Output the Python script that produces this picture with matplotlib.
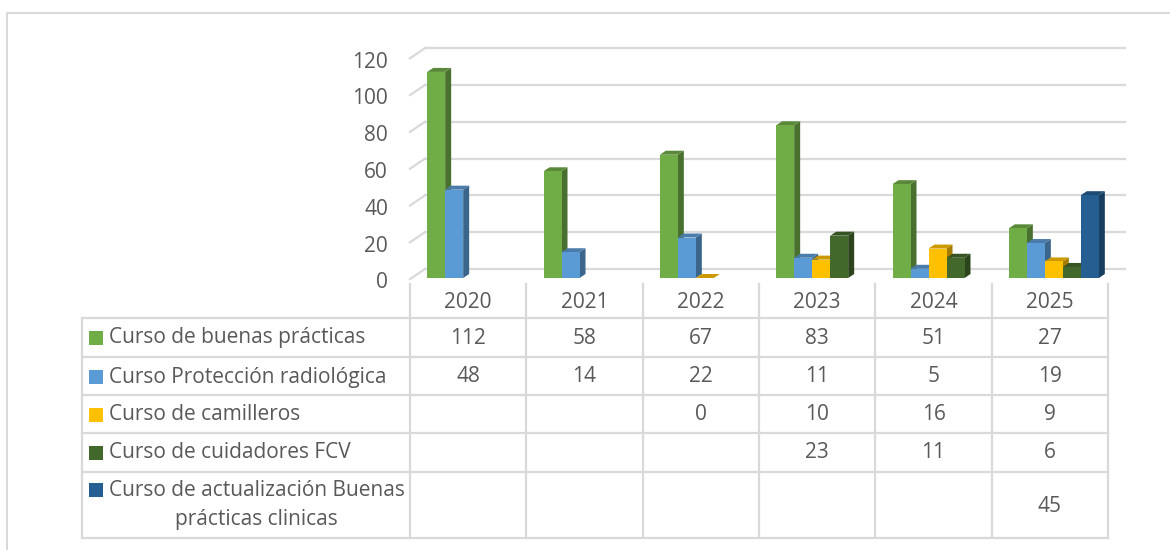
import matplotlib.pyplot as plt
import numpy as np
from matplotlib.patches import Polygon, Rectangle

years = ['2020', '2021', '2022', '2023', '2024', '2025']
series = ['Curso de buenas prácticas', 'Curso Protección radiológica',
          'Curso de camilleros', 'Curso de cuidadores FCV',
          'Curso de actualización Buenas prácticas clinicas']
buenas = [112, 58, 67, 83, 51, 27]
proteccion = [48, 14, 22, 11, 5, 19]
camilleros = [None, None, 0, 10, 16, 9]
cuidadores = [None, None, None, 23, 11, 6]
actualizacion = [None, None, None, None, None, 45]
values = [buenas, proteccion, camilleros, cuidadores, actualizacion]
colors = ['#70AD47', '#5B9BD5', '#FFC000', '#43682B', '#255E91']

plt.rcParams['font.family'] = ['Open Sans', 'DejaVu Sans']
txt = '#595959'
grid = '#D9D9D9'
fs = 15
W, H = 1170, 550

fig = plt.figure(figsize=(11.7, 5.5), dpi=100)

# overlay in pixel coords for frame and data table
bg = fig.add_axes([0, 0, 1, 1])
bg.set_xlim(0, W)
bg.set_ylim(H, 0)
bg.axis('off')
bg.plot([7, 7, W], [H, 13, 13], color=grid, lw=1.5)

# chart axes = front plane of the 3d box
x0, x1 = 410, 1108
y0, ppu = 278, 1.84
ax = fig.add_axes([x0 / W, (H - y0) / H, (x1 - x0) / W, 120 * ppu / H])
ax.set_xlim(-0.5, 5.5)
ax.set_ylim(0, 120)
ax.axis('off')

cw = (x1 - x0) / 6.0          # pixels per category
ddx, ddy = 15 / cw, 9 / ppu    # back wall offset
sdx, sdy = 6 / cw, 4 / ppu     # bar depth

for v in range(0, 121, 20):
    ax.plot([-0.5 + ddx, 5.5 + ddx * 1.15], [v + ddy, v + ddy], color=grid, lw=1.6, clip_on=False, zorder=1)
    ax.plot([-0.5, -0.5 + ddx], [v - 0.6, v + ddy], color=grid, lw=1.6, clip_on=False, zorder=1)
    ax.text(-0.5 - 22 / cw, v - 5 / ppu, str(v), ha='right', va='center', fontsize=fs, color=txt)


def shade(c, f):
    r, g, b = [int(c[i:i + 2], 16) / 255 for i in (1, 3, 5)]
    return (r * f, g * f, b * f)


slot = 18 / cw
for j, ys in enumerate(years):
    start = j - 2.5 * slot + 4 / cw
    for i, (vals, c) in enumerate(zip(values, colors)):
        v = vals[j]
        if v is None:
            continue
        x = start + i * slot
        z = 10 + i
        ax.add_patch(Polygon([(x + slot, 0), (x + slot + sdx, sdy), (x + slot + sdx, v + sdy), (x + slot, v)],
                             closed=True, fc=shade(c, 0.65), ec='none', zorder=z, clip_on=False))
        ax.add_patch(Polygon([(x, v), (x + slot, v), (x + slot + sdx, v + sdy), (x + sdx, v + sdy)],
                             closed=True, fc=shade(c, 0.8), ec='none', zorder=z, clip_on=False))
        if v > 0:
            ax.add_patch(Rectangle((x, 0), slot, v, fc=c, ec='none', zorder=z, clip_on=False))

# data table
cols = [x0 + k * cw for k in range(7)]
rows = [318, 357, 395, 433, 472, 538]
for cx in cols:
    bg.plot([cx, cx], [284, 538], color=grid, lw=1.6)
bg.plot([82, 82], [318, 538], color=grid, lw=1.6)
for ry in rows:
    bg.plot([82, cols[-1]], [ry, ry], color=grid, lw=1.6)
for j, ys in enumerate(years):
    cx = (cols[j] + cols[j + 1]) / 2
    bg.text(cx, 303, ys, ha='center', va='center', fontsize=fs, color=txt)
mids = [338, 377, 415, 453, 506]
for i, (name, vals, c) in enumerate(zip(series, values, colors)):
    ym = mids[i]
    ly = ym if i < 4 else 490
    bg.add_patch(Rectangle((89, ly - 7), 14, 14, fc=c, ec='none'))
    if i < 4:
        bg.text(109, ly, name, ha='left', va='center', fontsize=fs, color=txt)
    else:
        bg.text(109, 491, 'Curso de actualización Buenas', ha='left', va='center', fontsize=fs, color=txt)
        bg.text(256, 519, 'prácticas clinicas', ha='center', va='center', fontsize=fs, color=txt)
    for j, v in enumerate(vals):
        if v is not None:
            bg.text((cols[j] + cols[j + 1]) / 2, ym, str(v), ha='center', va='center', fontsize=fs, color=txt)

plt.savefig('out.png', dpi=100)
